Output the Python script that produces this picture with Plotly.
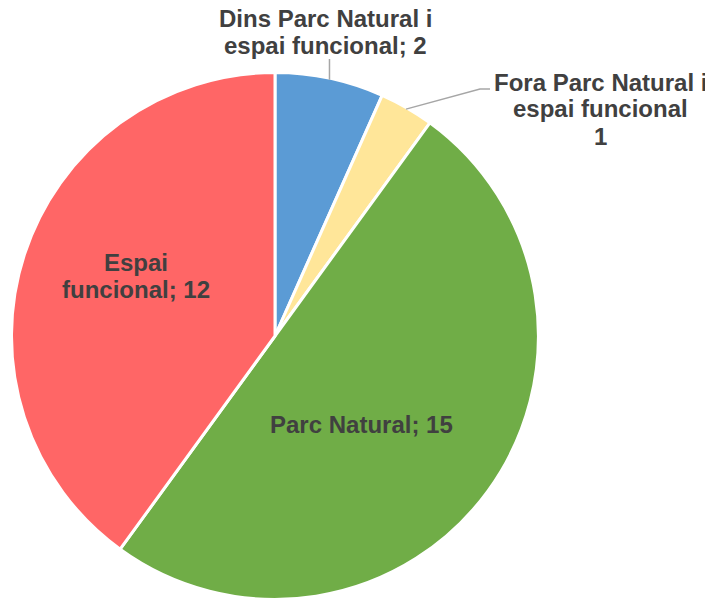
import math
import plotly.graph_objects as go

LABELS = ["Dins Parc Natural i espai funcional", "Fora Parc Natural i espai funcional",
          "Parc Natural", "Espai funcional"]
VALUES = [2, 1, 15, 12]
COLOURS = ["#5B9BD5", "#FFE699", "#70AD47", "#FF6666"]
# how each data label is broken into lines
LABEL_LINES = [
    ["Dins Parc Natural i", "espai funcional; 2"],
    ["Fora Parc Natural i", "espai funcional", "1"],
    ["Parc Natural; 15"],
    ["Espai", "funcional; 12"],
]

W, H = 713, 601
OFF = 8                       # page body margin
CX, CY, R = 275, 336, 262     # pie centre / radius on screen, px
R_DOM = 263.5
TXT = "#404040"
LEADER = "#A6A6A6"
FONT = "Liberation Sans, Arial, sans-serif"
FS = 24
STEP = 27                     # line spacing of data labels, px


def px(x):
    return (x - OFF) / W


def py(y):
    return 1 - (y - OFF) / H


fig = go.Figure(go.Pie(
    labels=LABELS,
    values=VALUES,
    textinfo="none",
    sort=False,
    direction="clockwise",
    rotation=0,
    marker=dict(colors=COLOURS, line=dict(color="white", width=3)),
    domain=dict(x=[px(CX - R_DOM), px(CX + R_DOM)],
                y=[py(CY + R_DOM), py(CY - R_DOM)]),
    showlegend=False,
    hoverinfo="label+value",
))


def add_label(lines, cx, y_first):
    for k, line in enumerate(lines):
        fig.add_annotation(
            x=px(cx), y=py(y_first + k * STEP), xref="paper", yref="paper",
            xanchor="center", yanchor="middle", showarrow=False,
            text=line, font=dict(family=FONT, size=FS, color=TXT, weight="bold"),
        )


# anchor points on the rim at the middle of each slice
total = sum(VALUES)
anchors = []
cum = 0
for v in VALUES:
    mid = (cum + v / 2) / total * 2 * math.pi
    anchors.append((CX + R * math.sin(mid), CY - R * math.cos(mid)))
    cum += v

# Dins: vertical leader up to the text
ax0, ay0 = anchors[0]
fig.add_shape(type="line", xref="paper", yref="paper",
              x0=px(ax0), y0=py(ay0), x1=px(ax0), y1=py(59),
              line=dict(color=LEADER, width=1.5))
add_label(LABEL_LINES[0], 325, 19)

# Fora: bent leader then the text block
ax1, ay1 = anchors[1]
fig.add_shape(
    type="path", xref="paper", yref="paper",
    path=f"M {px(ax1)},{py(ay1)} L {px(480)},{py(89)} L {px(490)},{py(89)}",
    line=dict(color=LEADER, width=1.5),
)
add_label(LABEL_LINES[1], 600, 82)

# inside labels
add_label(LABEL_LINES[2], 361, 424)
add_label(LABEL_LINES[3], 136, 262)

fig.update_layout(
    width=W, height=H,
    margin=dict(l=0, r=0, t=0, b=0),
    paper_bgcolor="white",
    plot_bgcolor="white",
    font=dict(family=FONT, color=TXT),
)

fig.write_html("out.html")
